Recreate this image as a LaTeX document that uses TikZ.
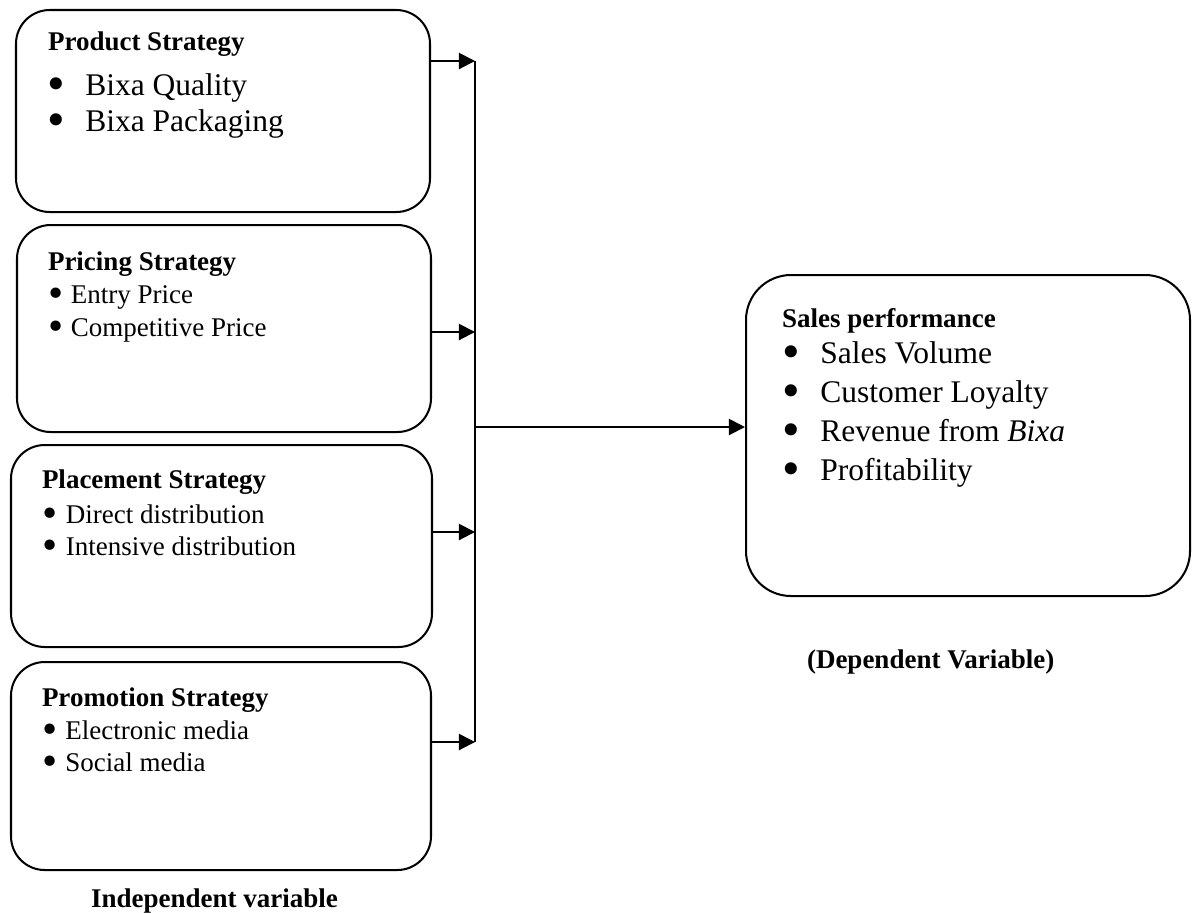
\documentclass[tikz,border=0pt]{standalone}
\usepackage{fontspec}
\usepackage{graphicx}
\setmainfont{Liberation Serif}
\usetikzlibrary{arrows.meta,fit}
\tikzset{
  px/.style={x=0.4444pt,y=-0.4444pt},
  box/.style={draw,line width=0.9pt,rounded corners=15pt,inner sep=0pt},
  bigbox/.style={draw,line width=0.9pt,rounded corners=20pt,inner sep=0pt},
  txt/.style={anchor=base west,inner sep=0pt,outer sep=0pt},
  head/.style={txt,font=\fontsize{12}{14}\selectfont\bfseries},
  sm/.style={txt,font=\fontsize{12}{14}\selectfont},
  lg/.style={txt,font=\fontsize{14}{16}\selectfont},
  arr/.style={line width=0.9pt,-{Triangle[length=7.2pt,width=7.2pt]}},
  bus/.style={line width=0.9pt},
}
\newcommand{\bl}[2]{\makebox[#1][l]{\smash{\raisebox{-0.17em}{\scalebox{1.6}{\textbullet}}}}#2}
\begin{document}
\begin{tikzpicture}[px]
\useasboundingbox (0,0) rectangle (1192,912);
% boxes
\node[box,fit={(16,10) (430,212)}] (b1) {};
\node[box,fit={(17,225) (431,432)}] (b2) {};
\node[box,fit={(11,445) (432,647)}] (b3) {};
\node[box,fit={(11,662) (431,870)}] (b4) {};
\node[bigbox,fit={(746,275) (1190,596)}] (out) {};
% texts box 1
\node[head] (t10) at (48,50) {Product Strategy};
\node[lg] (t11) at (47,95) {\bl{17pt}{Bixa Quality}};
\node[lg] (t12) at (47,131) {\bl{17pt}{Bixa Packaging}};
% box 2
\node[head] (t20) at (48,270) {Pricing Strategy};
\node[sm] (t21) at (48,303) {\bl{10.2pt}{Entry Price}};
\node[sm] (t22) at (48,336) {\bl{10.2pt}{Competitive Price}};
% box 3
\node[head] (t30) at (42,488) {Placement Strategy};
\node[sm] (t31) at (42,523) {\bl{10.6pt}{Direct distribution}};
\node[sm] (t32) at (42,555) {\bl{10.6pt}{Intensive distribution}};
% box 4
\node[head] (t40) at (42,706) {Promotion Strategy};
\node[sm] (t41) at (42,739) {\bl{10.4pt}{Electronic media}};
\node[sm] (t42) at (42,771) {\bl{10.4pt}{Social media}};
% output box
\node[head] (t50) at (782,327) {Sales performance};
\node[lg] (t51) at (782,363) {\bl{17pt}{Sales Volume}};
\node[lg] (t52) at (782,402) {\bl{17pt}{Customer Loyalty}};
\node[lg] (t53) at (782,441) {\bl{17pt}{Revenue from \textit{Bixa}}};
\node[lg] (t54) at (782,480) {\bl{17pt}{Profitability}};
% captions
\node[head] (dep) at (807,668) {(Dependent Variable)};
\node[head] (ind) at (91,907) {Independent variable};
% connectors
\coordinate (j1) at (475,61);
\coordinate (j2) at (475,332);
\coordinate (j3) at (475,532);
\coordinate (j4) at (475,742);
\coordinate (jm) at (475,427);
\draw[bus] (j1) -- (j4);
\draw[arr] (j1 -| b1.east) -- (j1);
\draw[arr] (j2 -| b2.east) -- (j2);
\draw[arr] (j3 -| b3.east) -- (j3);
\draw[arr] (j4 -| b4.east) -- (j4);
\draw[arr] (jm) -- (jm -| out.west);
\end{tikzpicture}
\end{document}
